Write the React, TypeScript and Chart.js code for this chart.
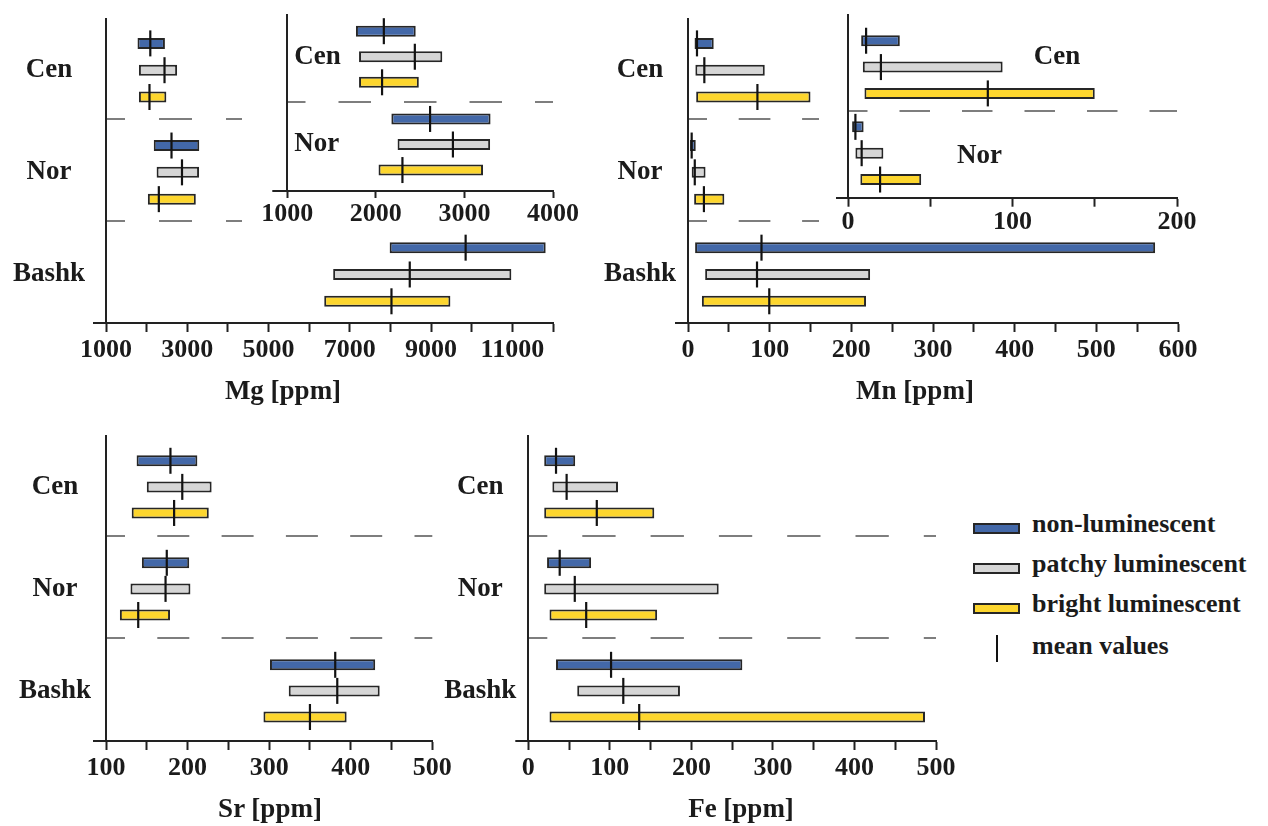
import React, { useEffect, useRef } from 'react';
import { Chart, registerables } from 'chart.js';

Chart.register(...registerables);

// ---------- data ----------
const REGIONS = ['Cen', 'Nor', 'Bashk'];
const CLASS_NAMES = ['non-luminescent', 'patchy luminescent', 'bright luminescent'];

// Mg [ppm]: [min, max] per region (Cen, Nor, Bashk) and mean values
const mgNonLum = [[1775, 2450], [2175, 3295], [7980, 11820]];
const mgPatchy = [[1810, 2750], [2245, 3290], [6590, 10975]];
const mgBright = [[1810, 2485], [2030, 3210], [6370, 9475]];
const mgNonLumMean = [2090, 2612, 9850];
const mgPatchyMean = [2440, 2870, 8475];
const mgBrightMean = [2070, 2300, 8025];

// Mn [ppm]
const mnNonLum = [[8, 31.5], [2.5, 9.5], [8.7, 572]];
const mnPatchy = [[9, 94], [4.5, 21.5], [21, 223]];
const mnBright = [[10, 150], [7.5, 44.5], [17, 218]];
const mnNonLumMean = [11, 4.5, 90];
const mnPatchyMean = [20, 8.3, 84.5];
const mnBrightMean = [85, 19.5, 99.5];

// Sr [ppm]
const srNonLum = [[137.5, 212], [144, 202], [301, 430]];
const srPatchy = [[150, 229.5], [130, 203.5], [324, 435.5]];
const srBright = [[131.5, 226], [117, 178.5], [293, 395]];
const srNonLumMean = [179, 174.5, 381];
const srPatchyMean = [193.5, 173, 383.5];
const srBrightMean = [183.5, 139.5, 350];

// Fe [ppm]
const feNonLum = [[19.5, 57.5], [23, 77], [34, 262.5]];
const fePatchy = [[29.5, 110], [19.5, 233.5], [60, 186]];
const feBright = [[19.5, 154.5], [26, 158], [26, 486.5]];
const feNonLumMean = [34, 38.5, 101.5];
const fePatchyMean = [47, 57, 116.5];
const feBrightMean = [84, 71, 136];

// axis ticks and labelled ticks
const mgMainTicks = [1000, 2000, 3000, 4000, 5000, 6000, 7000, 8000, 9000, 10000, 11000, 12000];
const mgMainTickLabels = [1000, 3000, 5000, 7000, 9000, 11000];
const mgInsetTicks = [1000, 2000, 3000, 4000];
const mgInsetTickLabels = [1000, 2000, 3000, 4000];
const mnMainTicks = [0, 50, 100, 150, 200, 250, 300, 350, 400, 450, 500, 550, 600];
const mnMainTickLabels = [0, 100, 200, 300, 400, 500, 600];
const mnInsetTicks = [0, 50, 100, 150, 200];
const mnInsetTickLabels = [0, 100, 200];
const srTicks = [100, 150, 200, 250, 300, 350, 400, 450, 500];
const srTickLabels = [100, 200, 300, 400, 500];
const feTicks = [0, 50, 100, 150, 200, 250, 300, 350, 400, 450, 500];
const feTickLabels = [0, 100, 200, 300, 400, 500];

// ---------- styles ----------
const FONT = "'Liberation Serif', 'Times New Roman', serif";
const INK = '#1b1b1b';
const AXIS = '#222222';
const BAR_EDGE = '#262626';
const DASH = '#7e7e7e';
const CLASS_COLORS = ['#4368a8', '#d6d6d6', '#fdd62e'];

type Elem = { ranges: number[][][]; means: number[][] };
const MG: Elem = { ranges: [mgNonLum, mgPatchy, mgBright], means: [mgNonLumMean, mgPatchyMean, mgBrightMean] };
const MN: Elem = { ranges: [mnNonLum, mnPatchy, mnBright], means: [mnNonLumMean, mnPatchyMean, mnBrightMean] };
const SR: Elem = { ranges: [srNonLum, srPatchy, srBright], means: [srNonLumMean, srPatchyMean, srBrightMean] };
const FE: Elem = { ranges: [feNonLum, fePatchy, feBright], means: [feNonLumMean, fePatchyMean, feBrightMean] };

type PanelCfg = {
  elem: Elem;
  n: number;
  left: number; top: number; w: number; h: number;
  yw: number; areaTop: number; padRight: number; xh: number;
  xMin: number; xMax: number; xTicks: number[]; xLabels: number[];
  xTickLen: number; xTickPad: number;
  G: number; topOff: number; bottomOff: number; sepOff: number;
  labelMode: 'left' | 'mirror' | 'plugin';
  labelPad: number; yTickLen: number;
  dash: number[]; dashOffset: number;
  inset?: boolean;
  pluginLabels?: { text: string; x: number; y: number }[];
};

const PANELS: PanelCfg[] = [
  {
    elem: MG, n: 3, left: 0, top: 0, w: 600, h: 420,
    yw: 106, areaTop: 19, padRight: 47, xh: 97,
    xMin: 1000, xMax: 12000, xTicks: mgMainTicks, xLabels: mgMainTickLabels, xTickLen: 9, xTickPad: 3,
    G: 3.81, topOff: 1.91, bottomOff: 1.81, sepOff: 1.82,
    labelMode: 'left', labelPad: 8, yTickLen: 13, dash: [33, 34], dashOffset: 15,
  },
  {
    elem: MN, n: 3, left: 590, top: 0, w: 628, h: 420,
    yw: 98, areaTop: 19, padRight: 40, xh: 97,
    xMin: 0, xMax: 600, xTicks: mnMainTicks, xLabels: mnMainTickLabels, xTickLen: 9, xTickPad: 3,
    G: 3.81, topOff: 1.91, bottomOff: 1.81, sepOff: 1.82,
    labelMode: 'left', labelPad: -1, yTickLen: 13, dash: [31.7, 31.7], dashOffset: 13.7,
  },
  {
    elem: SR, n: 3, left: 0, top: 400, w: 462, h: 426,
    yw: 106, areaTop: 36, padRight: 29.7, xh: 85,
    xMin: 100, xMax: 500, xTicks: srTicks, xLabels: srTickLabels, xTickLen: 9, xTickPad: 3,
    G: 3.91, topOff: 1.95, bottomOff: 1.92, sepOff: 1.9,
    labelMode: 'left', labelPad: 2, yTickLen: 13, dash: [32, 32.3], dashOffset: 14,
  },
  {
    elem: FE, n: 3, left: 420, top: 400, w: 546, h: 426,
    yw: 108.3, areaTop: 36, padRight: 30, xh: 85,
    xMin: 0, xMax: 500, xTicks: feTicks, xLabels: feTickLabels, xTickLen: 9, xTickPad: 3,
    G: 3.91, topOff: 1.95, bottomOff: 1.92, sepOff: 1.9,
    labelMode: 'left', labelPad: -1, yTickLen: 13, dash: [33.3, 35], dashOffset: 15,
  },
  {
    elem: MG, n: 2, left: 242, top: 0, w: 341, h: 230,
    yw: 45.3, areaTop: 11, padRight: 30, xh: 39,
    xMin: 1000, xMax: 4000, xTicks: mgInsetTicks, xLabels: mgInsetTickLabels, xTickLen: 7, xTickPad: 1,
    G: 3.435, topOff: 1.626, bottomOff: 1.82, sepOff: 1.78,
    labelMode: 'mirror', labelPad: 7, yTickLen: 15, dash: [32.5, 33], dashOffset: 15, inset: true,
  },
  {
    elem: MN, n: 2, left: 819, top: 0, w: 393, h: 236,
    yw: 29, areaTop: 14, padRight: 35, xh: 38.3,
    xMin: 0, xMax: 200, xTicks: mnInsetTicks, xLabels: mnInsetTickLabels, xTickLen: 9, xTickPad: 0,
    G: 3.27, topOff: 1.97, bottomOff: 1.69, sepOff: 1.65,
    labelMode: 'plugin', labelPad: 0, yTickLen: 12, dash: [30.5, 32], dashOffset: 12, inset: true,
    pluginLabels: [
      { text: 'Cen', x: 127, y: -0.39 },
      { text: 'Nor', x: 80, y: 3.38 },
    ],
  },
];

const insetLabelPlugin = {
  id: 'insetLabels',
  afterDraw(chart: any, _args: any, opts: any) {
    const items = opts && opts.items;
    if (!items) return;
    const ctx = chart.ctx;
    ctx.save();
    ctx.font = `bold 27px ${FONT}`;
    ctx.fillStyle = INK;
    ctx.textAlign = 'center';
    ctx.textBaseline = 'middle';
    for (const it of items) {
      ctx.fillText(it.text, chart.scales.x.getPixelForValue(it.x), chart.scales.y.getPixelForValue(it.y));
    }
    ctx.restore();
  },
};

function makeChart(canvas: HTMLCanvasElement, p: PanelCfg) {
  const n = p.n;
  const yMin = -p.topOff;
  const yMax = (n - 1) * p.G + p.bottomOff;
  const rowY = (g: number, c: number) => g * p.G + (c - 1);
  const centers = REGIONS.slice(0, n).map((_, g) => g * p.G);
  const seps = REGIONS.slice(0, n - 1).map((_, g) => g * p.G + p.sepOff);
  const near = (a: number, b: number) => Math.abs(a - b) < 1e-6;
  const isSep = (v: number) => seps.some((s) => near(s, v));
  const centerLabel = (v: number) => {
    const i = centers.findIndex((c) => near(c, v));
    return i >= 0 && p.labelMode !== 'plugin' ? REGIONS[i] : '';
  };

  const datasets: any[] = p.elem.ranges.map((ranges, c) => ({
    type: 'bar',
    label: CLASS_NAMES[c],
    indexAxis: 'y',
    data: ranges.slice(0, n).map((r, g) => ({ x: r, y: rowY(g, c) })),
    backgroundColor: CLASS_COLORS[c],
    borderColor: BAR_EDGE,
    borderWidth: 2,
    borderSkipped: false,
    inflateAmount: 0,
    barThickness: 11,
    maxBarThickness: 11,
    grouped: false,
    order: 2,
  }));
  const meanPts: { x: number; y: number }[] = [];
  p.elem.means.forEach((m, c) => m.slice(0, n).forEach((v, g) => meanPts.push({ x: v, y: rowY(g, c) })));
  datasets.push({
    type: 'scatter',
    label: 'mean values',
    data: meanPts,
    pointStyle: 'line',
    pointRadius: 13,
    pointRotation: 90,
    pointBorderWidth: 2.2,
    pointBorderColor: '#121212',
    pointBackgroundColor: '#121212',
    showLine: false,
    clip: false,
    order: 0,
  });

  const tickFont = { family: FONT, size: 26, weight: 'bold' as const };
  const labelFont = { family: FONT, size: 27, weight: 'bold' as const };

  return new Chart(canvas, {
    type: 'bar',
    data: { datasets },
    plugins: [insetLabelPlugin as any],
    options: {
      responsive: false,
      animation: false,
      events: [],
      layout: { padding: { left: 0, top: p.areaTop, right: p.padRight, bottom: 0 } },
      plugins: {
        legend: { display: false },
        tooltip: { enabled: false },
        insetLabels: { items: p.pluginLabels },
      } as any,
      scales: {
        x: {
          type: 'linear',
          position: 'bottom',
          offset: false,
          bounds: 'data',
          beginAtZero: false,
          min: p.xMin,
          max: p.xMax,
          afterBuildTicks: (s: any) => {
            s.ticks = p.xTicks.map((v) => ({ value: v }));
          },
          afterFit: (s: any) => {
            s.height = p.xh;
            s.paddingLeft = 0;
            s.paddingRight = 0;
          },
          ticks: {
            autoSkip: false,
            maxRotation: 0,
            minRotation: 0,
            padding: p.xTickPad,
            font: tickFont,
            color: INK,
            callback: (v: any) => (p.xLabels.includes(Number(v)) ? String(v) : ''),
          },
          grid: {
            offset: false,
            drawOnChartArea: false,
            drawTicks: true,
            tickLength: p.xTickLen,
            tickWidth: 2,
            tickColor: AXIS,
            color: AXIS,
          },
          border: { display: true, color: AXIS, width: 2 },
        },
        y: {
          type: 'linear',
          position: 'left',
          offset: false,
          bounds: 'data',
          beginAtZero: false,
          reverse: true,
          min: yMin,
          max: yMax,
          afterBuildTicks: (s: any) => {
            const vals = [...centers, ...seps, yMax].sort((a, b) => a - b);
            s.ticks = vals.map((v) => ({ value: v }));
          },
          afterFit: (s: any) => {
            s.width = p.yw;
            s.paddingTop = 0;
            s.paddingBottom = 0;
          },
          ticks: {
            autoSkip: false,
            mirror: p.labelMode === 'mirror',
            crossAlign: p.labelMode === 'mirror' ? 'near' : 'center',
            padding: p.labelPad,
            font: labelFont,
            color: INK,
            callback: (v: any) => centerLabel(Number(v)),
          },
          grid: {
            offset: false,
            drawOnChartArea: true,
            drawTicks: true,
            tickLength: p.yTickLen,
            tickWidth: 2,
            lineWidth: 2,
            color: (ctx: any) => (ctx.tick && isSep(ctx.tick.value) ? DASH : 'rgba(0,0,0,0)'),
            tickColor: (ctx: any) => (ctx.tick && near(ctx.tick.value, yMax) ? AXIS : 'rgba(0,0,0,0)'),
          },
          border: { display: true, color: AXIS, width: 2, dash: p.dash, dashOffset: p.dashOffset },
        },
      } as any,
    },
  } as any);
}

function Panel({ cfg }: { cfg: PanelCfg }) {
  const ref = useRef<HTMLCanvasElement | null>(null);
  useEffect(() => {
    if (!ref.current) return;
    const chart = makeChart(ref.current, cfg);
    return () => chart.destroy();
  }, [cfg]);
  return (
    <canvas
      ref={ref}
      width={cfg.w}
      height={cfg.h}
      style={{
        position: 'absolute',
        left: cfg.left,
        top: cfg.top,
        width: cfg.w,
        height: cfg.h,
        background: cfg.inset ? '#ffffff' : 'transparent',
      }}
    />
  );
}

const AXIS_TITLES = [
  { text: 'Mg [ppm]', x: 283, top: 377 },
  { text: 'Mn [ppm]', x: 915, top: 377 },
  { text: 'Sr [ppm]', x: 270, top: 795 },
  { text: 'Fe [ppm]', x: 741, top: 795 },
];

const LEGEND_BASELINES = [533, 573, 613, 655];

export default function App() {
  const textStyle: React.CSSProperties = {
    position: 'absolute',
    fontFamily: FONT,
    fontWeight: 'bold',
    color: INK,
    whiteSpace: 'nowrap',
  };
  return (
    <div style={{ position: 'fixed', left: 0, top: 0, width: 1268, height: 826, background: '#ffffff', overflow: 'hidden' }}>
      {PANELS.map((p, i) => (
        <Panel key={i} cfg={p} />
      ))}
      {AXIS_TITLES.map((t) => (
        <div key={t.text} style={{ ...textStyle, left: t.x, top: t.top, fontSize: 27, lineHeight: '27px', transform: 'translateX(-50%)' }}>
          {t.text}
        </div>
      ))}
      {CLASS_NAMES.map((name, i) => (
        <React.Fragment key={name}>
          <div
            style={{
              position: 'absolute',
              left: 973,
              top: LEGEND_BASELINES[i] - 10,
              width: 47,
              height: 11,
              boxSizing: 'border-box',
              background: CLASS_COLORS[i],
              border: `2px solid ${BAR_EDGE}`,
            }}
          />
          <div style={{ ...textStyle, left: 1032, top: LEGEND_BASELINES[i] - 21.8, fontSize: 26, lineHeight: '26px' }}>{name}</div>
        </React.Fragment>
      ))}
      <div style={{ position: 'absolute', left: 995.5, top: 635, width: 2, height: 27, background: '#121212' }} />
      <div style={{ ...textStyle, left: 1032, top: LEGEND_BASELINES[3] - 21.8, fontSize: 26, lineHeight: '26px' }}>mean values</div>
    </div>
  );
}
